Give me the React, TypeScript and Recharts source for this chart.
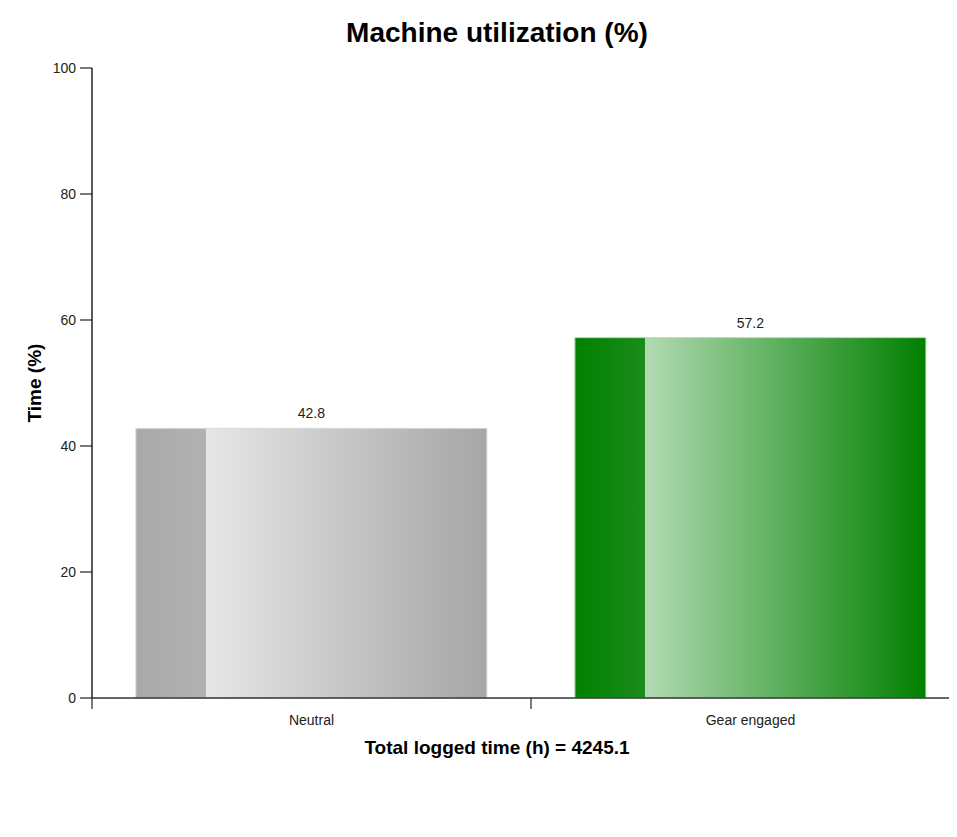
import { BarChart, Bar, XAxis, YAxis, Cell, LabelList } from 'recharts';

const categories = ['Neutral', 'Gear engaged'];
const shares = [42.8, 57.2];
const yTicks = [0, 20, 40, 60, 80, 100];
const totalHours = 4245.1;

const FONT = '"Liberation Sans", Arial, Helvetica, sans-serif';
const TICK_SIZE = 11;
const TICK_MARGIN = 6;

const data = categories.map((name, i) => ({ name, value: shares[i] }));

const barStyles = [
  { fill: 'url(#gradNeutral)', stroke: '#d8d8d8' },
  { fill: 'url(#gradGear)', stroke: '#b4dcb4' },
];

// label at the band centre, tick mark on the band's left boundary
function BoundaryTick(props: any) {
  const { x, y, payload } = props;
  const off = payload?.offset ?? 0;
  return (
    <g>
      <line x1={x - off} x2={x - off} y1={y - TICK_SIZE - TICK_MARGIN} y2={y - TICK_MARGIN}
        stroke="#222" strokeWidth={1.2} />
      <text x={x} y={y} dy="0.71em" textAnchor="middle" fill="#222" fontSize={14} fontFamily={FONT}>
        {payload.value}
      </text>
    </g>
  );
}

export default function App() {
  return (
    <div style={{ position: 'relative', width: 949, height: 800, overflow: 'hidden', fontFamily: FONT }}>
      <BarChart width={980} height={780} data={data} barCategoryGap="10%"
        margin={{ top: 60, right: 18, left: 0, bottom: 50 }}>
        <defs>
          <linearGradient id="gradNeutral" x1="0" y1="0" x2="1" y2="0">
            <stop offset="0%" stopColor="#a9a9a9" />
            <stop offset="20%" stopColor="#b2b2b2" />
            <stop offset="20%" stopColor="#e6e6e6" />
            <stop offset="100%" stopColor="#a6a6a6" />
          </linearGradient>
          <linearGradient id="gradGear" x1="0" y1="0" x2="1" y2="0">
            <stop offset="0%" stopColor="#008000" />
            <stop offset="20%" stopColor="#1b8c1b" />
            <stop offset="20%" stopColor="#b2dab2" />
            <stop offset="100%" stopColor="#008000" />
          </linearGradient>
        </defs>
        <XAxis dataKey="name" height={40} interval={0}
          axisLine={{ stroke: '#333', strokeWidth: 1.5 }}
          tickLine={{ stroke: 'none' }} tickSize={TICK_SIZE} tickMargin={TICK_MARGIN}
          tick={<BoundaryTick />} />
        <YAxis type="number" domain={[0, 100]} ticks={yTicks} width={84}
          axisLine={{ stroke: '#222', strokeWidth: 1.5 }}
          tickLine={{ stroke: '#222', strokeWidth: 1.2 }} tickSize={12} tickMargin={4}
          tick={{ fill: '#222', fontSize: 14, fontFamily: FONT }} />
        <Bar dataKey="value" isAnimationActive={false} strokeWidth={1}>
          {data.map((d, i) => (
            <Cell key={d.name} fill={barStyles[i].fill} stroke={barStyles[i].stroke} />
          ))}
          <LabelList dataKey="value" position="top" offset={10} fill="#222" fontSize={14}
            fontFamily={FONT} />
        </Bar>
      </BarChart>
      <div style={{ position: 'absolute', left: 189, width: 600, top: 11, textAlign: 'center',
        fontSize: 28, lineHeight: '28px', fontWeight: 'bold', color: '#000' }}>
        Machine utilization (%)
      </div>
      <div style={{ position: 'absolute', left: 189, width: 600, top: 730, textAlign: 'center',
        fontSize: 19, lineHeight: '20px', fontWeight: 'bold', color: '#000' }}>
        {`Total logged time (h) = ${totalHours}`}
      </div>
      <div style={{ position: 'absolute', left: 27, top: 375, transform: 'translate(-50%, -50%) rotate(-90deg)',
        whiteSpace: 'nowrap', fontSize: 19, lineHeight: '20px', fontWeight: 'bold', color: '#000' }}>
        Time (%)
      </div>
    </div>
  );
}
